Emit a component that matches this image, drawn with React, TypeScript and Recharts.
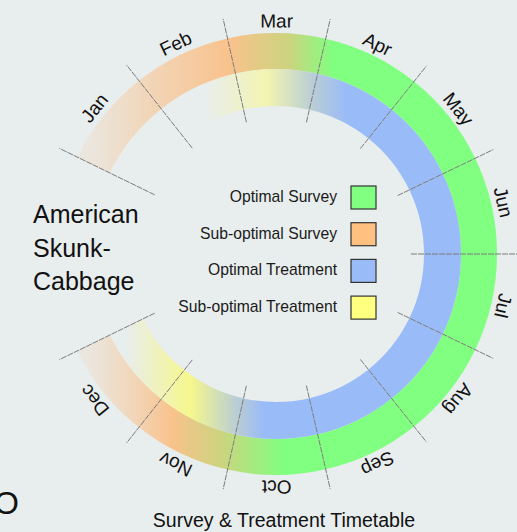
import { PieChart, Pie, Cell } from 'recharts'

// months around the wheel, each one an equal share of the arc
const months = ['Jan', 'Feb', 'Mar', 'Apr', 'May', 'Jun', 'Jul', 'Aug', 'Sep', 'Oct', 'Nov', 'Dec']
const monthShare = [1, 1, 1, 1, 1, 1, 1, 1, 1, 1, 1, 1]

const legendLabels = ['Optimal Survey', 'Sub-optimal Survey', 'Optimal Treatment', 'Sub-optimal Treatment']
const titleLines = ['American', 'Skunk-', 'Cabbage']
const chartTitle = 'Survey & Treatment Timetable'

const GREEN = '#80ff80'
const ORANGE = '#f9c28c'
const BLUE = '#99bbf8'
const YELLOW = '#ffff80'
const legendColors = [GREEN, '#ffc080', BLUE, YELLOW]

const FONT = '"Liberation Sans", Arial, sans-serif'
const W = 517
const H = 532
const CX = 276
const CY = 254
const RADIAN = Math.PI / 180

// gradient stops: [x in px, colour, opacity]
type Stop = [number, string, number]
const surveyTop: Stop[] = [
  [88, ORANGE, 0.15],
  [150, ORANGE, 0.55],
  [230, ORANGE, 1],
  [290, '#cbd47e', 1],
  [334, GREEN, 1],
]
const surveyBottom: Stop[] = [
  [88, ORANGE, 0.15],
  [135, ORANGE, 0.55],
  [172, ORANGE, 1],
  [222, '#cbd47e', 1],
  [284, GREEN, 1],
]
const treatTop: Stop[] = [
  [205, '#f4f5b0', 0],
  [267, '#f3f4b0', 1],
  [313, '#b9cdd6', 1],
  [347, BLUE, 1],
]
const treatBottom: Stop[] = [
  [125, '#f6f78c', 0],
  [190, '#f6f78c', 1],
  [237, '#b9cdd4', 1],
  [264, BLUE, 1],
]

function Grad({ id, stops }: { id: string; stops: Stop[] }) {
  return (
    <linearGradient id={id} gradientUnits="userSpaceOnUse" x1={0} y1={0} x2={W} y2={0}>
      {stops.map(([x, c, o], i) => (
        <stop key={i} offset={x / W} stopColor={c} stopOpacity={o} />
      ))}
    </linearGradient>
  )
}

const data = months.map((m, i) => ({ name: m, value: monthShare[i] }))

function radial(cx: number, cy: number, r: number, a: number) {
  return [cx + r * Math.cos(-a * RADIAN), cy + r * Math.sin(-a * RADIAN)]
}

function renderMonth(props: any) {
  const { cx, cy, midAngle, startAngle, endAngle, index, name } = props
  const [x1, y1] = radial(cx, cy, 135, startAngle)
  const [x2, y2] = radial(cx, cy, 241, startAngle)
  const [tx, ty] = radial(cx, cy, 233, midAngle)
  const [ex1, ey1] = radial(cx, cy, 135, endAngle)
  const [ex2, ey2] = radial(cx, cy, 241, endAngle)
  return (
    <g key={`m-${index}`}>
      <line x1={x1} y1={y1} x2={x2} y2={y2} stroke="#7c7c7c" strokeWidth={1} strokeDasharray="6 1" />
      {index === months.length - 1 && (
        <line x1={ex1} y1={ey1} x2={ex2} y2={ey2} stroke="#7c7c7c" strokeWidth={1} strokeDasharray="6 1" />
      )}
      <text
        x={tx}
        y={ty}
        textAnchor="middle"
        dominantBaseline="central"
        fontSize={19}
        fontFamily={FONT}
        fill="#111"
        transform={`rotate(${90 - midAngle} ${tx} ${ty})`}
      >
        {name}
      </text>
    </g>
  )
}

export default function App() {
  return (
    <div style={{ position: 'absolute', left: 0, top: 0, width: W, height: H, background: '#e8eded', overflow: 'hidden' }}>
      <PieChart width={W} height={H} margin={{ top: 0, right: 0, bottom: 0, left: 0 }}>
        <defs>
          <Grad id="survTop" stops={surveyTop} />
          <Grad id="survBot" stops={surveyBottom} />
          <Grad id="treatTop" stops={treatTop} />
          <Grad id="treatBot" stops={treatBottom} />
        </defs>
        <Pie
          data={data}
          dataKey="value"
          cx={CX}
          cy={CY}
          innerRadius={185}
          outerRadius={221}
          startAngle={154}
          endAngle={-154}
          stroke="none"
          isAnimationActive={false}
        >
          {data.map((d, i) => (
            <Cell key={d.name} fill={i < 6 ? 'url(#survTop)' : 'url(#survBot)'} />
          ))}
        </Pie>
        <Pie
          data={data}
          dataKey="value"
          cx={CX}
          cy={CY}
          innerRadius={148}
          outerRadius={185}
          startAngle={154}
          endAngle={-154}
          stroke="none"
          label={renderMonth}
          labelLine={false}
          isAnimationActive={false}
        >
          {data.map((d, i) => (
            <Cell key={d.name} fill={i < 6 ? 'url(#treatTop)' : 'url(#treatBot)'} />
          ))}
        </Pie>
        {legendLabels.map((l, i) => (
          <g key={l}>
            <text x={337} y={202 + i * 36.7} textAnchor="end" fontSize={15.7} fontFamily={FONT} fill="#1a1a1a">
              {l}
            </text>
            <rect x={351} y={186 + i * 36.7} width={25} height={23} fill={legendColors[i]} stroke="#333" strokeWidth={1.2} />
          </g>
        ))}
        {titleLines.map((t, i) => (
          <text key={t} x={33} y={223 + i * 33.5} fontSize={25} fontFamily={FONT} fill="#111">
            {t}
          </text>
        ))}
        <text x={284} y={527} textAnchor="middle" fontSize={19.5} fontFamily={FONT} fill="#111">
          {chartTitle}
        </text>
        <text x={-6} y={514} fontSize={32} fontFamily={FONT} fill="#111">
          O
        </text>
      </PieChart>
    </div>
  )
}
